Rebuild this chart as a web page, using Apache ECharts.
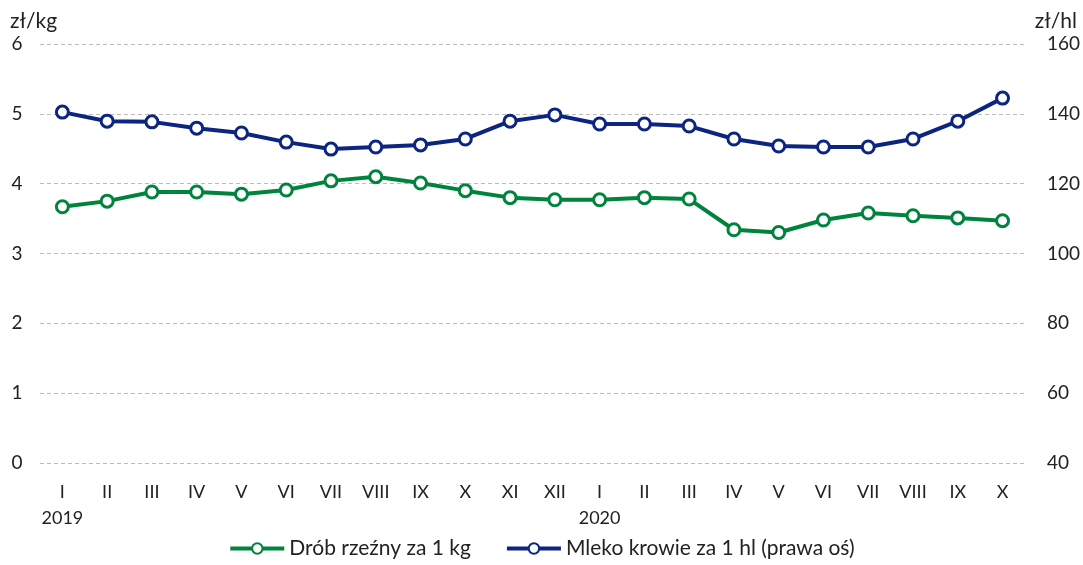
<!DOCTYPE html>
<html>
<head>
<meta charset="utf-8">
<script src="https://cdn.jsdelivr.net/npm/echarts@6/dist/echarts.min.js"></script>
<style>
  html, body { margin: 0; padding: 0; background: #fff; }
  #chart { width: 1083px; height: 565px; }
</style>
</head>
<body>
<div id="chart"></div>
<script>
const months = ['I\n2019', 'II', 'III', 'IV', 'V', 'VI', 'VII', 'VIII', 'IX', 'X', 'XI', 'XII',
    'I\n2020', 'II', 'III', 'IV', 'V', 'VI', 'VII', 'VIII', 'IX', 'X'];

const drob = [3.67, 3.75, 3.88, 3.88, 3.85, 3.91, 4.04, 4.10, 4.01, 3.90, 3.80, 3.77,
    3.77, 3.80, 3.78, 3.34, 3.30, 3.48, 3.58, 3.54, 3.51, 3.47];

const mleko = [140.5, 137.9, 137.7, 135.9, 134.5, 131.9, 129.9, 130.5, 131.1, 132.8, 137.9, 139.7,
    137.1, 137.1, 136.5, 132.8, 130.8, 130.5, 130.5, 132.8, 137.9, 144.5];

const leftTicks = { min: 0, max: 6, interval: 1 };
const rightTicks = { min: 40, max: 160, interval: 20 };

const GREEN = '#00843d';
const BLUE = '#0c2580';
const FONT = 'Lato';

const chart = echarts.init(document.getElementById('chart'));

const lineSeries = (name, data, color, yIndex) => ({
    name: name,
    type: 'line',
    data: data,
    yAxisIndex: yIndex,
    symbol: 'circle',
    symbolSize: 12,
    lineStyle: { color: color, width: 4 },
    itemStyle: { color: '#fff', borderColor: color, borderWidth: 3 },
    emphasis: { disabled: true },
    animation: false
});

chart.setOption({
    textStyle: { fontFamily: FONT },
    grid: { left: 40, right: 57, top: 44, bottom: 102 },
    legend: {
        bottom: 1,
        left: 'center',
        itemWidth: 54,
        itemHeight: 13,
        itemGap: 34,
        lineStyle: { width: 4 },
        textStyle: { fontSize: 21, color: '#222', fontFamily: FONT },
        data: ['Drób rzeźny za 1 kg', 'Mleko krowie za 1 hl (prawa oś)']
    },
    xAxis: {
        type: 'category',
        data: months,
        boundaryGap: true,
        axisLine: { show: false },
        axisTick: { show: false },
        axisLabel: { color: '#222', fontSize: 18, margin: 16, lineHeight: 26, interval: 0 }
    },
    yAxis: [
        {
            type: 'value',
            ...leftTicks,
            position: 'left',
            name: 'zł/kg',
            nameLocation: 'end',
            nameGap: 12,
            nameTextStyle: { color: '#222', fontSize: 21, align: 'left', padding: [0, 0, 0, -30] },
            axisLine: { show: false },
            axisTick: { show: false },
            axisLabel: { color: '#222', fontSize: 19, margin: 23, align: 'center' },
            splitLine: { lineStyle: { color: '#bbb', type: [4, 3], width: 1 } }
        },
        {
            type: 'value',
            ...rightTicks,
            position: 'right',
            name: 'zł/hl',
            nameLocation: 'end',
            nameGap: 12,
            nameTextStyle: { color: '#222', fontSize: 21, align: 'right', padding: [0, -52, 0, 0] },
            axisLine: { show: false },
            axisTick: { show: false },
            axisLabel: { color: '#222', fontSize: 19, margin: 22, align: 'left' },
            splitLine: { show: false }
        }
    ],
    series: [
        lineSeries('Drób rzeźny za 1 kg', drob, GREEN, 0),
        lineSeries('Mleko krowie za 1 hl (prawa oś)', mleko, BLUE, 1)
    ]
});
</script>
</body>
</html>
